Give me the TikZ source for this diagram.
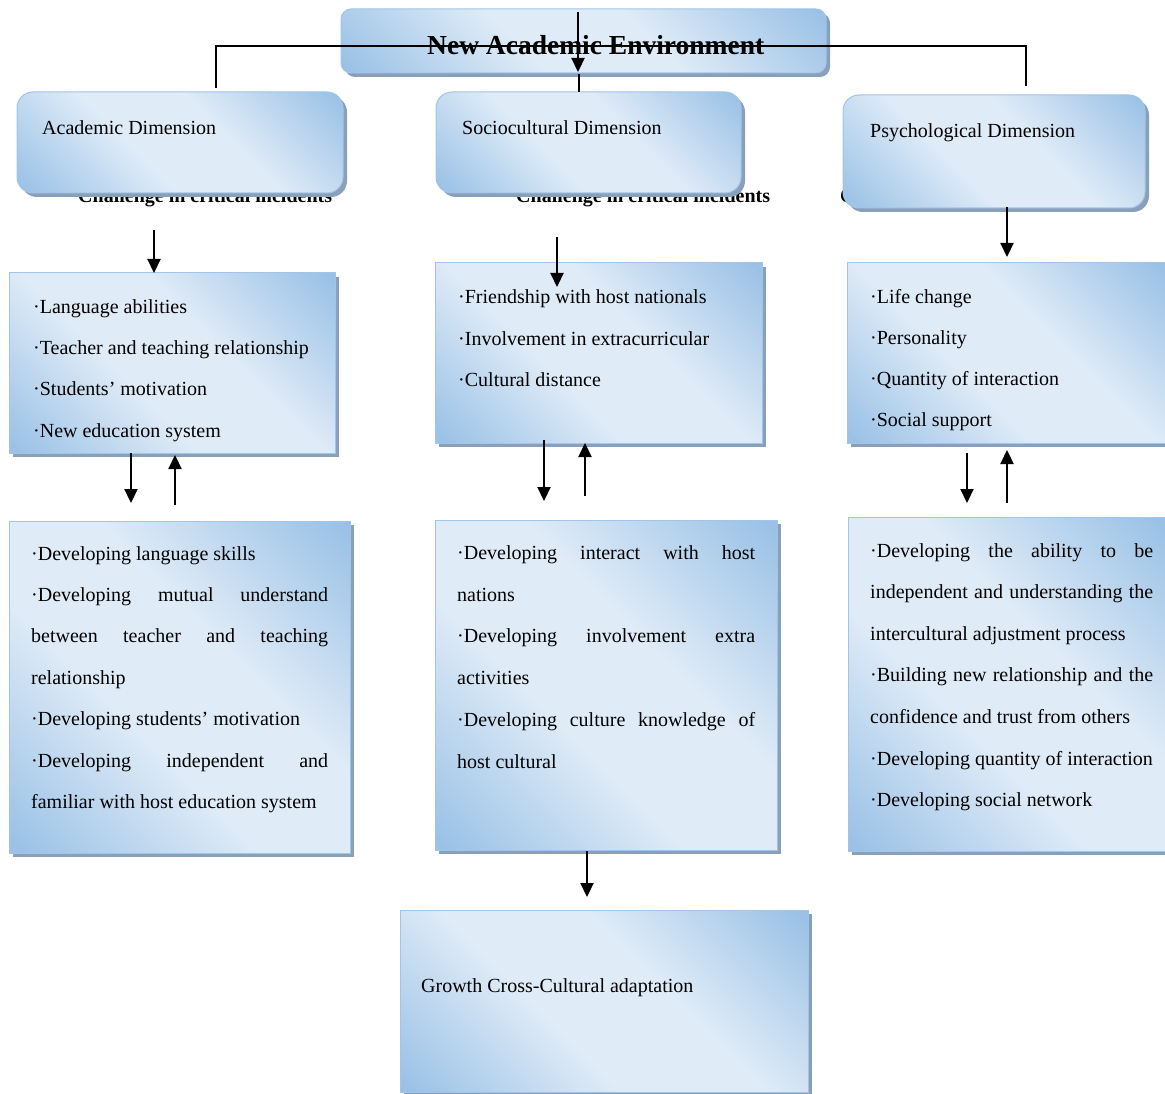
\documentclass[tikz,border=0pt]{standalone}
\usepackage{fontspec}
\setmainfont{Liberation Serif}
\usetikzlibrary{arrows.meta,shadows}
\definecolor{bdark}{RGB}{155,194,230}
\definecolor{blight}{RGB}{223,235,247}
\definecolor{bedge}{RGB}{160,197,233}
\definecolor{shcol}{RGB}{138,160,186}
% blue fill: light diagonal band, darker opposite corners
\pgfdeclareverticalshading{boxdiag}{100bp}{color(0bp)=(bdark); color(16bp)=(bdark); color(41bp)=(blight); color(59bp)=(blight); color(84bp)=(bdark); color(100bp)=(bdark)}
\begin{document}
\begin{tikzpicture}[x=1pt,y=-1pt,
  gbox/.style={draw=bedge, line width=1pt, shade, shading=boxdiag, shading angle=-45,
    drop shadow={shadow xshift=4pt,shadow yshift=-4pt,fill=shcol,opacity=1},
    anchor=north west, inner sep=0pt, outer sep=0pt},
  dimbox/.style={gbox, rounded corners=16pt},
  txt/.style={anchor=base west, inner sep=0pt, font=\fontsize{20}{24}\selectfont},
  btxt/.style={anchor=base west, inner sep=0pt, font=\fontsize{20}{24}\selectfont\bfseries},
  conn/.style={line width=1.6pt},
  arr/.style={line width=2.2pt, -{Triangle[width=13pt,length=14pt]}},
]
\useasboundingbox (0,0) rectangle (1165,1094);

% captions sitting behind the dimension boxes
\node[btxt] (chA) at (78,203) {Challenge in critical incidents};
\node[btxt] (chS) at (516,203) {Challenge in critical incidents};
\node[btxt] (chP) at (840,203) {Challenge in critical incidents};

% title box
\node[gbox, rounded corners=10pt, minimum width=485pt, minimum height=64pt] (env) at (341,9) {};
\node[anchor=base west, inner sep=0pt, font=\fontsize{27.5}{30}\selectfont\bfseries] (envt) at (427,55) {New Academic Environment};

% dimension boxes
\node[dimbox, minimum width=326pt, minimum height=101pt] (acd) at (17,92) {};
\node[dimbox, minimum width=305pt, minimum height=101pt] (scd) at (436,92) {};
\node[dimbox, minimum width=302pt, minimum height=113pt] (psd) at (843,95) {};
\node[txt] (acdt) at (42,135) {Academic Dimension};
\node[txt] (scdt) at (462,135) {Sociocultural Dimension};
\node[txt] (psdt) at (870,138) {Psychological Dimension};

% factor boxes
\node[gbox, minimum width=326pt, minimum height=180pt] (acl) at (9,273) {};
\node[gbox, minimum width=327pt, minimum height=180pt] (scl) at (435,263) {};
\node[gbox, minimum width=319pt, minimum height=180pt] (psl) at (847,263) {};

\foreach \t [count=\i from 0] in {{·Language abilities},{·Teacher and teaching relationship},{·Students’ motivation},{·New education system}}
  \node[txt] (acl-\i) at (33,313+41.4*\i) {\t};
\foreach \t [count=\i from 0] in {{·Friendship with host nationals},{·Involvement in extracurricular},{·Cultural distance}}
  \node[txt] (scl-\i) at (458,303.5+41.6*\i) {\t};
\foreach \t [count=\i from 0] in {{·Life change},{·Personality},{·Quantity of interaction},{·Social support}}
  \node[txt] (psl-\i) at (870,303+41.3*\i) {\t};

% development boxes
\node[gbox, minimum width=341pt, minimum height=332pt] (acv) at (9,521) {};
\node[gbox, minimum width=342pt, minimum height=330pt] (scv) at (435,520) {};
\node[gbox, minimum width=318pt, minimum height=334pt] (psv) at (848,517) {};

\foreach \t [count=\i from 0] in {{·Developing language skills},
    {\makebox[297pt][s]{·Developing mutual understand}},
    {\makebox[297pt][s]{between teacher and teaching}},
    {relationship},
    {·Developing students’ motivation},
    {\makebox[297pt][s]{·Developing independent and}},
    {familiar with host education system}}
  \node[txt] (acv-\i) at (31,560+41.4*\i) {\t};
\foreach \t [count=\i from 0] in {{\makebox[298pt][s]{·Developing interact with host}},
    {nations},
    {\makebox[298pt][s]{·Developing involvement extra}},
    {activities},
    {\makebox[298pt][s]{·Developing culture knowledge of}},
    {host cultural}}
  \node[txt] (scv-\i) at (457,559.5+41.7*\i) {\t};
\foreach \t [count=\i from 0] in {{\makebox[283pt][s]{·Developing the ability to be}},
    {\makebox[283pt][s]{independent and understanding the}},
    {intercultural adjustment process},
    {\makebox[283pt][s]{·Building new relationship and the}},
    {confidence and trust from others},
    {·Developing quantity of interaction},
    {·Developing social network}}
  \node[txt] (psv-\i) at (870,557+41.6*\i) {\t};

% outcome box
\node[gbox, minimum width=408pt, minimum height=182pt] (grow) at (400,910) {};
\node[txt] (growt) at (421,992) {Growth Cross-Cultural adaptation};

% connector end points
\coordinate (hA) at (216,88);
\coordinate (hL) at (216,46);
\coordinate (hR) at (1026,46);
\coordinate (hP) at (1026,86);
\coordinate (envIn) at (578,12);
\coordinate (envTip) at (578,72);
\coordinate (envOut) at (579,74);
\coordinate (scdIn) at (579,92);
\coordinate (aA1) at (154,230);  \coordinate (aA2) at (154,273);
\coordinate (aS1) at (557,237);  \coordinate (aS2) at (557,287);
\coordinate (aP1) at (1007,207); \coordinate (aP2) at (1007,257);
\coordinate (dA1) at (131,453);  \coordinate (dA2) at (131,503);
\coordinate (uA1) at (175,505);  \coordinate (uA2) at (175,455);
\coordinate (dS1) at (544,440);  \coordinate (dS2) at (544,501);
\coordinate (uS1) at (585,496);  \coordinate (uS2) at (585,443);
\coordinate (dP1) at (967,453);  \coordinate (dP2) at (967,503);
\coordinate (uP1) at (1007,503); \coordinate (uP2) at (1007,450);
\coordinate (gS1) at (587,851);  \coordinate (gS2) at (587,897);

% connectors
\draw[conn] (hA) -- (hL) -- (hR) -- (hP);
\draw[arr] (envIn) -- (envTip);
\draw[conn] (envOut) -- (scdIn);
\draw[arr] (aA1) -- (aA2);
\draw[arr] (aS1) -- (aS2);
\draw[arr] (aP1) -- (aP2);
\draw[arr] (dA1) -- (dA2);
\draw[arr] (uA1) -- (uA2);
\draw[arr] (dS1) -- (dS2);
\draw[arr] (uS1) -- (uS2);
\draw[arr] (dP1) -- (dP2);
\draw[arr] (uP1) -- (uP2);
\draw[arr] (gS1) -- (gS2);
\end{tikzpicture}
\end{document}
